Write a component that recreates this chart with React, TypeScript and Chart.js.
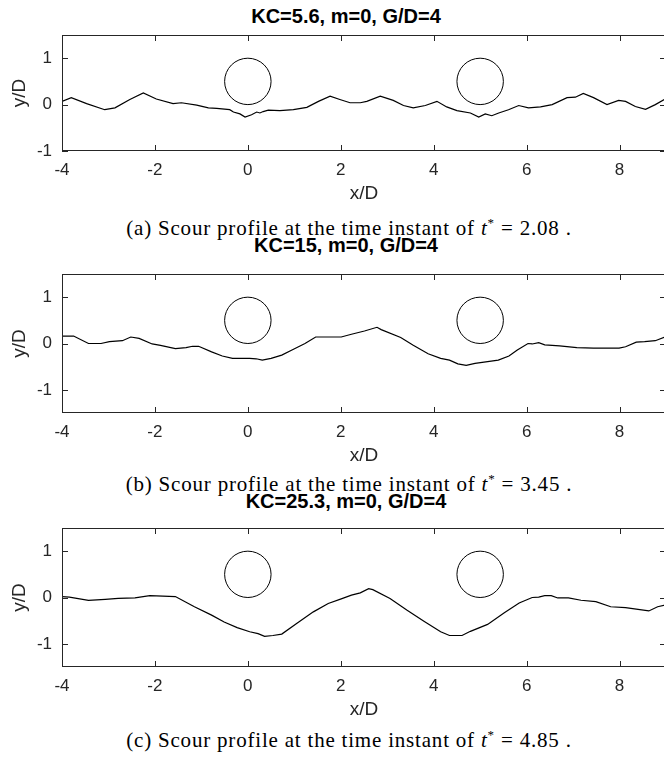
import React, { useEffect, useRef } from "react";
import { Chart, registerables } from "chart.js";

Chart.register(...registerables);

// ---------- data ----------
const xTicks = [-4, -2, 0, 2, 4, 6, 8];
const yTicks = [-1, 0, 1];
const xMin = -4;
const xMax = 9;

const cylinderX = [0, 5];
const cylinderY = 0.5;
const cylinderR = 0.5;

const titles = ["KC=5.6, m=0, G/D=4", "KC=15, m=0, G/D=4", "KC=25.3, m=0, G/D=4"];
const captionTags = ["(a)", "(b)", "(c)"];
const tStar = ["2.08", "3.45", "4.85"];
const yMins = [-1, -1.5, -1.5];
const yMaxs = [1.5, 1.5, 1.5];

// (a) KC=5.6
const profileAX = [-4, -3.8, -3.47, -3.08, -2.86, -2.54, -2.25, -1.97, -1.61, -1.43, -1.1, -0.85, -0.67, -0.39, -0.31, -0.17, -0.06, 0.08, 0.19, 0.26, 0.33, 0.44, 0.69, 0.98, 1.27, 1.52, 1.77, 1.98, 2.2, 2.42, 2.56, 2.85, 3.13, 3.35, 3.56, 3.82, 4.07, 4.28, 4.5, 4.79, 4.97, 5.11, 5.25, 5.4, 5.61, 5.83, 6.04, 6.3, 6.55, 6.87, 7.05, 7.22, 7.44, 7.73, 7.98, 8.13, 8.34, 8.56, 8.77, 9];
const profileAY = [0.07, 0.15, 0.02, -0.11, -0.07, 0.11, 0.25, 0.12, 0.02, 0.04, -0.01, -0.07, -0.08, -0.11, -0.16, -0.2, -0.27, -0.22, -0.16, -0.18, -0.15, -0.12, -0.13, -0.11, -0.06, 0.07, 0.18, 0.11, 0.04, 0.04, 0.07, 0.18, 0.09, -0.02, -0.07, -0.02, 0.07, -0.05, -0.13, -0.18, -0.27, -0.2, -0.24, -0.18, -0.11, -0.02, -0.07, -0.05, 0.0, 0.15, 0.16, 0.24, 0.15, 0.0, 0.09, 0.07, -0.04, -0.1, 0.0, 0.13];

// (b) KC=15
const profileBX = [-4, -3.75, -3.43, -3.16, -2.98, -2.7, -2.52, -2.34, -2.06, -1.88, -1.56, -1.33, -1.19, -1.06, -0.78, -0.55, -0.33, -0.14, 0.04, 0.18, 0.31, 0.5, 0.73, 0.95, 1.23, 1.46, 1.73, 2.01, 2.23, 2.51, 2.78, 2.87, 3.29, 3.56, 3.88, 4.15, 4.34, 4.52, 4.7, 4.89, 5.16, 5.39, 5.62, 5.8, 6.03, 6.12, 6.26, 6.39, 6.71, 7.08, 7.44, 7.72, 7.99, 8.13, 8.36, 8.54, 8.77, 9];
const profileBY = [0.16, 0.16, 0.0, 0.0, 0.04, 0.06, 0.14, 0.11, -0.01, -0.04, -0.11, -0.09, -0.06, -0.06, -0.18, -0.27, -0.32, -0.32, -0.32, -0.33, -0.36, -0.32, -0.25, -0.14, 0.0, 0.14, 0.14, 0.14, 0.2, 0.27, 0.35, 0.3, 0.13, -0.04, -0.22, -0.32, -0.36, -0.44, -0.47, -0.43, -0.39, -0.36, -0.27, -0.14, 0.0, -0.01, 0.02, -0.03, -0.05, -0.09, -0.1, -0.1, -0.1, -0.07, 0.03, 0.04, 0.06, 0.15];

// (c) KC=25.3
const profileCX = [-4, -3.84, -3.43, -3.07, -2.79, -2.43, -2.11, -1.83, -1.56, -1.15, -0.78, -0.51, -0.23, 0.04, 0.22, 0.36, 0.54, 0.73, 1.05, 1.41, 1.73, 2.01, 2.23, 2.42, 2.6, 2.69, 3.06, 3.42, 3.79, 4.15, 4.34, 4.61, 4.79, 5.16, 5.52, 5.84, 6.12, 6.26, 6.39, 6.53, 6.67, 6.9, 7.17, 7.49, 7.81, 8.13, 8.36, 8.63, 8.82, 9];
const profileCY = [0.02, 0.01, -0.06, -0.04, -0.02, -0.01, 0.04, 0.03, 0.02, -0.2, -0.38, -0.53, -0.65, -0.74, -0.78, -0.84, -0.82, -0.79, -0.56, -0.31, -0.13, -0.03, 0.05, 0.1, 0.19, 0.17, -0.02, -0.27, -0.51, -0.74, -0.82, -0.82, -0.73, -0.58, -0.33, -0.12, 0.0, 0.01, 0.04, 0.04, -0.01, -0.01, -0.06, -0.09, -0.2, -0.22, -0.25, -0.29, -0.2, -0.16];

const profilesX = [profileAX, profileBX, profileCX];
const profilesY = [profileAY, profileBY, profileCY];

// ---------- layout / style ----------
const SANS = "'Liberation Sans', Arial, Helvetica, sans-serif";
const SERIF = "'Liberation Serif', 'Times New Roman', serif";
const AXIS_COLOR = "#262626";
const CANVAS_W = 672;
const TOP_PAD = 4;
const X_AXIS_BLOCK = 54;
const Y_AXIS_BLOCK = 62;
const plotTops = [35, 274, 528];
const plotBottoms = [151, 413, 667];
const titleCenters = [16, 245, 501];
const captionCenters = [228, 484, 740];
const TITLE_CX = 346;
const CAPTION_CX = 349;

const zeroPadding = (s: any) => {
  s.paddingTop = 0;
  s.paddingBottom = 0;
  s.paddingLeft = 0;
  s.paddingRight = 0;
};

const framePlugin = {
  id: "matlabFrame",
  afterDatasetsDraw(chart: any) {
    const { ctx, chartArea, scales } = chart;
    const { left, right, top, bottom } = chartArea;
    const xs = scales.x;
    const ys = scales.y;
    ctx.save();
    // cylinders
    ctx.strokeStyle = "#000";
    ctx.lineWidth = 1;
    cylinderX.forEach((cx) => {
      const px = xs.getPixelForValue(cx);
      const py = ys.getPixelForValue(cylinderY);
      const rx = xs.getPixelForValue(cx + cylinderR) - px;
      const ry = py - ys.getPixelForValue(cylinderY + cylinderR);
      ctx.beginPath();
      ctx.ellipse(px, py, rx, ry, 0, 0, Math.PI * 2);
      ctx.stroke();
    });
    // box
    ctx.strokeStyle = AXIS_COLOR;
    ctx.lineWidth = 1;
    ctx.strokeRect(Math.round(left) + 0.5, Math.round(top) + 0.5, Math.round(right - left) - 1, Math.round(bottom - top) - 1);
    // inward ticks
    const tl = 6;
    ctx.beginPath();
    xTicks.forEach((v) => {
      const px = Math.round(xs.getPixelForValue(v)) + 0.5;
      ctx.moveTo(px, bottom);
      ctx.lineTo(px, bottom - tl);
      ctx.moveTo(px, top);
      ctx.lineTo(px, top + tl);
    });
    yTicks.forEach((v) => {
      const py = Math.round(ys.getPixelForValue(v)) + 0.5;
      ctx.moveTo(left, py);
      ctx.lineTo(left + tl, py);
      ctx.moveTo(right, py);
      ctx.lineTo(right - tl, py);
    });
    ctx.stroke();
    ctx.restore();
  },
};

function Panel({ index }: { index: number }) {
  const ref = useRef<HTMLCanvasElement>(null);
  const plotH = plotBottoms[index] - plotTops[index];
  const canvasH = TOP_PAD + plotH + X_AXIS_BLOCK;
  const canvasTop = plotTops[index] - TOP_PAD;

  useEffect(() => {
    if (!ref.current) return;
    const xs = profilesX[index];
    const ys = profilesY[index];
    const chart = new Chart(ref.current, {
      type: "line",
      data: {
        datasets: [
          {
            data: xs.map((x, i) => ({ x, y: ys[i] })),
            borderColor: "#000",
            borderWidth: 1.2,
            pointRadius: 0,
            tension: 0,
            fill: false,
          },
        ],
      },
      options: {
        animation: false,
        responsive: false,
        maintainAspectRatio: false,
        layout: { padding: { left: 0, right: 6, top: TOP_PAD, bottom: 0 } },
        plugins: {
          legend: { display: false },
          tooltip: { enabled: false },
          title: { display: false },
        },
        scales: {
          x: {
            type: "linear",
            min: xMin,
            max: xMax,
            grid: { display: false, drawTicks: false },
            border: { display: false },
            ticks: {
              color: AXIS_COLOR,
              font: { family: SANS, size: 17 },
              padding: 9,
              maxRotation: 0,
              autoSkip: false,
            },
            afterBuildTicks: (s: any) => {
              s.ticks = xTicks.map((v) => ({ value: v }));
            },
            afterFit: (s: any) => {
              s.height = X_AXIS_BLOCK;
              zeroPadding(s);
            },
            title: {
              display: true,
              text: "x/D",
              color: AXIS_COLOR,
              font: { family: SANS, size: 19 },
              padding: { top: 0, bottom: 0 },
            },
          },
          y: {
            type: "linear",
            min: yMins[index],
            max: yMaxs[index],
            grid: { display: false, drawTicks: false },
            border: { display: false },
            ticks: {
              color: AXIS_COLOR,
              font: { family: SANS, size: 17 },
              padding: 10,
              autoSkip: false,
            },
            afterBuildTicks: (s: any) => {
              s.ticks = yTicks.map((v) => ({ value: v }));
            },
            afterFit: (s: any) => {
              s.width = Y_AXIS_BLOCK;
              zeroPadding(s);
            },
            title: {
              display: true,
              text: "y/D",
              color: AXIS_COLOR,
              font: { family: SANS, size: 19 },
              padding: { top: 8, bottom: 0 },
            },
          },
        },
      },
      plugins: [framePlugin],
    } as any);
    return () => chart.destroy();
  }, [index]);

  return (
    <>
      <div
        style={{
          position: "absolute",
          left: TITLE_CX - 200,
          width: 400,
          top: titleCenters[index] - 12,
          height: 24,
          lineHeight: "24px",
          textAlign: "center",
          fontFamily: SANS,
          fontWeight: "bold",
          fontSize: 20,
          color: "#000",
          whiteSpace: "nowrap",
        }}
      >
        {titles[index]}
      </div>
      <canvas
        ref={ref}
        width={CANVAS_W}
        height={canvasH}
        style={{ position: "absolute", left: 0, top: canvasTop, width: CANVAS_W, height: canvasH }}
      />
      <div
        style={{
          position: "absolute",
          left: CAPTION_CX - 300,
          width: 600,
          top: captionCenters[index] - 12,
          height: 24,
          lineHeight: "24px",
          textAlign: "center",
          fontFamily: SERIF,
          fontSize: 21,
          letterSpacing: "0.8px",
          color: "#000",
          whiteSpace: "nowrap",
        }}
      >
        {captionTags[index]} Scour profile at the time instant of <i>t</i>
        <sup style={{ fontSize: 13, verticalAlign: "8px", lineHeight: 0 }}>*</sup> = {tStar[index]} .
      </div>
    </>
  );
}

export default function App() {
  useEffect(() => {
    document.body.style.margin = "0";
  }, []);
  return (
    <div
      style={{
        position: "absolute",
        left: 0,
        top: 0,
        width: 664,
        height: 767,
        overflow: "hidden",
        background: "#fff",
      }}
    >
      {[0, 1, 2].map((i) => (
        <Panel key={i} index={i} />
      ))}
    </div>
  );
}
